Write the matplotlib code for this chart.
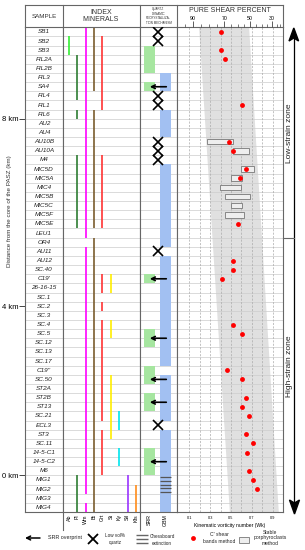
import matplotlib
matplotlib.use('Agg')
import matplotlib.pyplot as plt
from matplotlib.patches import Polygon, Rectangle
import numpy as np

plt.rcParams['font.family'] = ['Liberation Sans', 'DejaVu Sans']

# --------------------------------------------------------
# Data
# --------------------------------------------------------
SAMPLES = ['SB1', 'SB2', 'SB3', 'FIL2A', 'FIL2B', 'FIL3', 'SA4', 'FIL4', 'FIL1',
           'FIL6', 'AU2', 'AU4', 'AU10B', 'AU10A', 'M4', 'MIC5D', 'MIC5A', 'MIC4',
           'MIC5B', 'MIC5C', 'MIC5F', 'MIC5E', 'LEU1', 'OR4', 'AU11', 'AU12', 'SC.40',
           "C19'", '26-16-15', 'SC.1', 'SC.2', 'SC.3', 'SC.4', 'SC.5', 'SC.12', 'SC.13',
           'SC.17', "C19''", 'SC.50', 'ST2A', 'ST2B', 'ST13', 'SC.21', 'ECL3', 'ST3',
           'SC.11', '14-5-C1', '14-5-C2', 'M6', 'MIG1', 'MIG2', 'MIG3', 'MIG4']

KM_LABELS = ['8 km', '4 km', '0 km']
KM_ROWS = [10, 30.5, 49]

MINERALS = ['Ab', 'Pl', 'Wm', 'Bt', 'Grt', 'St', 'Ky', 'Sil', 'Kfs']
MINERAL_COLORS = ['#33ee33', '#2e7d32', '#ff00ff', '#7a5c2e', '#ff3333',
                  '#ffee00', '#00e5ee', '#9933ff', '#ff8c1a']

# first / last sample of each occurrence
AB = [('SB2', 'SB3')]
PL = [('FIL2A', 'FIL4'), ('FIL6', 'FIL6'), ('M4', 'MIC5E'), ('MIG1', 'MIG4')]
WM = [('SB1', 'LEU1'), ('AU11', 'M6'), ('MIG1', 'MIG2'), ('MIG4', 'MIG4')]
BT = [('SB1', 'SA4'), ('FIL6', 'MIC5E'), ('OR4', 'MIG4')]
GRT = [('SB2', 'FIL1'), ('M4', 'MIC5E'), ("C19'", '26-16-15'), ('SC.2', 'SC.2'),
       ('SC.4', 'SC.21'), ('ST3', 'M6')]
ST = [("C19'", '26-16-15'), ('SC.4', 'SC.5'), ('SC.50', 'ST3')]
KY = [('SC.21', 'ECL3'), ('14-5-C1', '14-5-C2')]
SIL = [('MIG1', 'MIG4')]
KFS = [('MIG2', 'MIG4')]
MINERAL_RANGES = [AB, PL, WM, BT, GRT, ST, KY, SIL, KFS]

SRR = [('SB3', 'FIL2B'), ('SA4', 'SA4'), ("C19'", "C19'"), ('SC.5', 'SC.12'),
       ("C19''", 'SC.50'), ('ST2B', 'ST13'), ('14-5-C1', 'M6')]
GBM = [('FIL3', 'SA4'), ('FIL6', 'AU4'), ('MIC5D', 'OR4'), ('AU12', 'SC.17'),
       ('SC.50', 'SC.21'), ('ST3', 'MIG4')]
SRR_OVERPRINT = [('SA4', 'SA4'), ("C19'", "C19'"), ('SC.5', 'SC.12'),
                 ('SC.50', 'SC.50'), ('ST2B', 'ST13'), ('14-5-C2', '14-5-C2')]
LOW_QUARTZ = ['SB1', 'SB2', 'FIL4', 'FIL1', 'AU10B', 'AU10A', 'M4', 'AU11', 'ECL3']
CHESSBOARD = [('MIG1', 'MIG2')]

# C' shear bands method (Wk)
CS_SAMPLES = ['SB1', 'SB3', 'FIL2A', 'FIL1', 'AU10B', 'AU10A', 'MIC5D', 'MIC5A',
              'MIC5E', 'AU12', 'SC.40', "C19'", 'SC.4', 'SC.5', "C19''", 'SC.50',
              'ST2B', 'ST13', 'SC.21', 'ST3', 'SC.11', '14-5-C1', 'M6', 'MIG1', 'MIG2']
CS_WK = [0.40, 0.40, 0.44, 0.61, 0.48, 0.52, 0.645, 0.59, 0.565, 0.52, 0.52, 0.41,
         0.52, 0.61, 0.46, 0.61, 0.645, 0.61, 0.675, 0.645, 0.715, 0.65, 0.675,
         0.715, 0.75]

# stable porphyroclasts method (Wk range)
SP_SAMPLES = ['AU10B', 'AU10A', 'MIC5D', 'MIC5A', 'MIC4', 'MIC5B', 'MIC5C', 'MIC5F']
SP_MIN = [0.27, 0.52, 0.60, 0.50, 0.395, 0.44, 0.50, 0.44]
SP_MAX = [0.52, 0.67, 0.725, 0.61, 0.595, 0.685, 0.61, 0.625]

# grey band (Wk at top and bottom of the section)
BAND_LEFT = [0.19, 0.485]
BAND_RIGHT = [0.67, 0.955]

WK_TICKS = [0.1, 0.3, 0.5, 0.7, 0.9]
PS_PERCENT = [90, 70, 50, 30]
PS_WK = [0.138, 0.436, 0.683, 0.892]
PS_MINOR_WK = [0.06, 0.21, 0.29, 0.37, 0.5, 0.57, 0.63, 0.74, 0.8, 0.85, 0.94, 0.97]

# --------------------------------------------------------
W, H = 305, 550
TOP, BOT = 27.3, 512
FRAME = '#666666'
GRID = '#cccccc'

fig = plt.figure(figsize=(W / 100, H / 100), dpi=100)


def px_axes(x0, y0, x1, y1):
    return fig.add_axes([x0 / W, 1 - y1 / H, (x1 - x0) / W, (y1 - y0) / H])


row = {s: i for i, s in enumerate(SAMPLES)}
n = len(SAMPLES)


def span(a, b):
    return row[a], row[b] + 1


ax_s = px_axes(25, TOP, 63, BOT)
ax_m = px_axes(63, TOP, 140, BOT)
ax_q = px_axes(140, TOP, 177, BOT)
ax_p = px_axes(177, TOP, 283, BOT)

for ax in (ax_s, ax_m, ax_q, ax_p):
    ax.set_ylim(n, 0)
    for i in range(1, n):
        ax.axhline(i, color=GRID, lw=0.5, zorder=0.5)
    for sp in ax.spines.values():
        sp.set_color(FRAME)
        sp.set_linewidth(0.8)
    ax.tick_params(length=0)

# sample column
ax_s.set_xlim(0, 1)
ax_s.set_xticks([])
for i, s in enumerate(SAMPLES):
    ax_s.text(0.5, i + 0.5, s, ha='center', va='center', fontsize=4.6,
              style='italic', color='#222222')
ax_s.set_yticks(KM_ROWS, KM_LABELS, fontsize=5.5)
ax_s.tick_params(axis='y', length=4, width=0.7, color='#444444', pad=1)
ax_s.set_ylabel('Distance from the core of the PASZ (km)', fontsize=4.5, color='#333333')
ax_s.yaxis.set_label_coords(-0.33, 0.62)

# index minerals
ax_m.set_xlim(-0.716, 8.478)
for i, (ranges, c) in enumerate(zip(MINERAL_RANGES, MINERAL_COLORS)):
    for a, b in ranges:
        lo, hi = span(a, b)
        ax_m.vlines(i, lo, hi, color=c, lw=1.2, zorder=2)
ax_m.set_xticks(range(len(MINERALS)), MINERALS, rotation=90, fontsize=3.8)
ax_m.tick_params(axis='x', pad=1.5)
ax_m.set_yticks([])

# quartz recrystallization mechanism
ax_q.set_xlim(-0.594, 1.719)
for a, b in SRR:
    lo, hi = span(a, b)
    ax_q.bar(0, hi - lo, bottom=lo, width=0.7, color='#a6e6a0', zorder=1)
for a, b in GBM:
    lo, hi = span(a, b)
    ax_q.bar(1, hi - lo, bottom=lo, width=0.7, color='#a2c0f2', zorder=1)
for a, b in CHESSBOARD:
    lo, hi = span(a, b)
    ax_q.hlines(np.linspace(lo + 0.2, hi - 0.2, 5), 0.65, 1.35, color='#555555', lw=0.9, zorder=2)
for s in LOW_QUARTZ:
    ax_q.plot(0.5, row[s] + 0.5, marker='x', ms=6.8, mew=1.2, color='black', zorder=3)
for a, b in SRR_OVERPRINT:
    lo, hi = span(a, b)
    y = (lo + hi) / 2
    ax_q.annotate('', xy=(0.02, y), xytext=(1.05, y),
                  arrowprops=dict(arrowstyle='->', lw=1.2, color='black',
                                  shrinkA=0, shrinkB=0, mutation_scale=6.5), zorder=3)
ax_q.set_xticks([0, 1], ['SRR', 'GBM'], rotation=90, fontsize=3.8)
ax_q.tick_params(axis='x', pad=1.5)
ax_q.set_yticks([])

# pure shear / vorticity panel
ax_p.set_xlim(-0.018, 1.0)
ax_p.fill_betweenx([0, n], BAND_LEFT, BAND_RIGHT, color='#e0e0e0', lw=0, zorder=0.2)
for x in np.arange(0.1, 1.0, 0.1):
    ax_p.axvline(x, color='#aaaaaa', lw=0.5, ls=(0, (3, 2)), zorder=0.6)
sp_rows = [row[s] + 0.5 for s in SP_SAMPLES]
ax_p.barh(sp_rows, np.array(SP_MAX) - np.array(SP_MIN), left=SP_MIN, height=0.62,
          color='#eeeeee', edgecolor='#777777', lw=0.6, zorder=2)
ax_p.plot(CS_WK, [row[s] + 0.5 for s in CS_SAMPLES], 'o', color='#ff0000', ms=3.5,
          mec='none', zorder=3)
ax_p.set_xticks(WK_TICKS, [str(t) for t in WK_TICKS], fontsize=2.8)
ax_p.tick_params(axis='x', pad=3)
ax_p.set_yticks([])
ax_p.set_xlabel('Kinematic vorticity number (Wk)', fontsize=3.6, labelpad=2)

ax_t = ax_p.twiny()
ax_t.set_xlim(ax_p.get_xlim())
ax_t.set_xticks(PS_WK, [str(p) for p in PS_PERCENT], fontsize=3.8)
ax_t.set_xticks(PS_MINOR_WK, minor=True)
ax_t.tick_params(axis='x', which='major', length=4, width=0.6, pad=0.5, color='#444444')
ax_t.tick_params(axis='x', which='minor', length=2.5, width=0.5, color='#444444')
for sp in ax_t.spines.values():
    sp.set_visible(False)

# --------------------------------------------------------
# overlay: header, frame, zones and legend
ov = fig.add_axes([0, 0, 1, 1])
ov.set_xlim(0, W)
ov.set_ylim(H, 0)
ov.axis('off')
ov.patch.set_alpha(0)

ov.plot([25, 283], [5, 5], color=FRAME, lw=0.8)
for x in (25, 63, 140, 177, 283):
    ov.plot([x, x], [5, TOP], color=FRAME, lw=0.8)
for x in (63, 140):
    ov.plot([x, x], [BOT, 530], color=FRAME, lw=0.8)

ov.text(44, 16, 'SAMPLE', ha='center', va='center', fontsize=4.5, color='#333333')
ov.text(101, 16, 'INDEX\nMINERALS', ha='center', va='center', fontsize=5,
        color='#333333', linespacing=1.15)
ov.text(158.5, 16, 'QUARTZ\nDYNAMIC\nRECRYSTALLIZA-\nTION MECHANISM', ha='center',
        va='center', fontsize=2.2, color='#333333', linespacing=1.2)
ov.text(230, 10, 'PURE SHEAR PERCENT', ha='center', va='center', fontsize=5,
        color='#333333')

# strain zones arrow
ov.plot([294, 294], [38, 503], color='black', lw=0.9)
ov.add_patch(Polygon([(293.8, 28), (289, 41), (293.8, 38), (298.6, 41)], closed=True,
                     color='black'))
ov.add_patch(Polygon([(294.5, 514), (289.5, 500), (294.5, 503), (299.5, 500)], closed=True,
                     color='black'))
ov.plot([283, 294], [237.5, 237.5], color=FRAME, lw=0.8)
ov.text(289.5, 133, 'Low-strain zone', rotation=90, ha='center', va='center',
        fontsize=6, color='#222222')
ov.text(289.5, 366, 'High-strain zone', rotation=90, ha='center', va='center',
        fontsize=6, color='#222222')

# legend
ov.annotate('', xy=(25, 538), xytext=(40, 538),
            arrowprops=dict(arrowstyle='->', lw=1.1, color='black', shrinkA=0,
                            shrinkB=0, mutation_scale=7))
ov.text(48, 537, 'SRR overprint', ha='left', va='center', fontsize=3.9, color='#222222')
ov.plot(93, 539, marker='x', ms=7.5, mew=1.3, color='black')
ov.text(115, 539, 'Low vol%\nquartz', ha='center', va='center', fontsize=3.3,
        color='#222222', linespacing=1.3)
ov.hlines([535, 539, 543], 136, 148, color='#666666', lw=1)
ov.text(162, 540, 'Chessboard\nextinction', ha='center', va='center', fontsize=3.3,
        color='#222222', linespacing=1.3)
ov.plot(193, 538, 'o', color='#ff0000', ms=3.5, mec='none')
ov.text(219, 538, "C' shear\nbands method", ha='center', va='center', fontsize=3.6,
        color='#222222', linespacing=1.3)
ov.add_patch(Rectangle((239, 537), 10, 6, facecolor='#eeeeee', edgecolor='#777777', lw=0.6))
ov.text(270, 538, 'Stable\nporphyroclasts\nmethod', ha='center', va='center',
        fontsize=3.6, color='#222222', linespacing=1.2)

fig.savefig('out.png', dpi=100)
